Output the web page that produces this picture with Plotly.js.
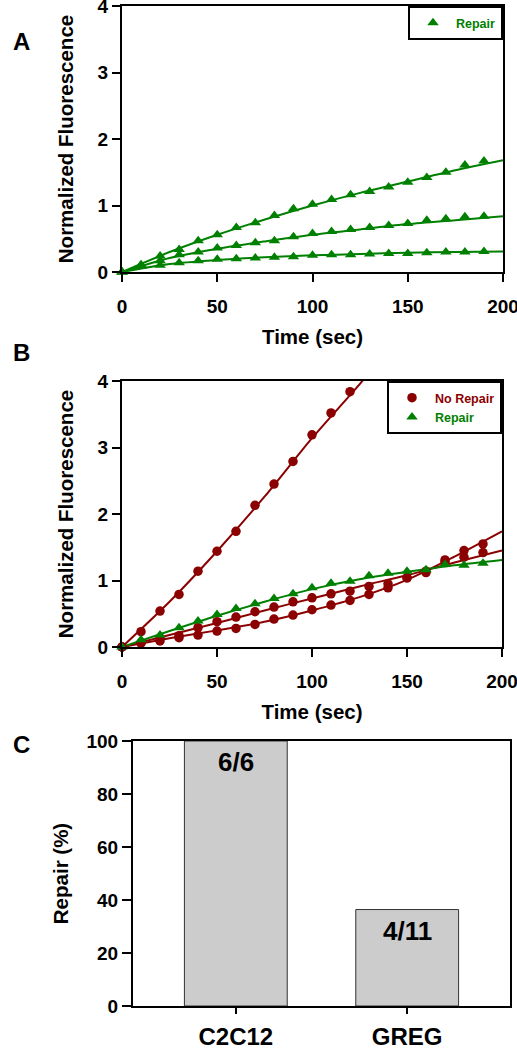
<!DOCTYPE html>
<html>
<head>
<meta charset="utf-8">
<script src="https://cdn.plot.ly/plotly-3.0.1.min.js"></script>
<style>html,body{margin:0;padding:0;background:#fff;}#chart{width:517px;height:1050px;}</style>
</head>
<body>
<div id="chart"></div>
<script>
// ---------- Data ----------
const time = [0,10,20,30,40,50,60,70,80,90,100,110,120,130,140,150,160,170,180,190];
const fitTime = [0,25,50,75,100,125,150,175,200];

// Panel A (Repair, three cells)
const repairA1 = [0,0.11,0.24,0.34,0.47,0.56,0.67,0.74,0.85,0.95,1.02,1.09,1.16,1.21,1.28,1.35,1.42,1.50,1.61,1.67];
const repairA2 = [0,0.10,0.17,0.26,0.30,0.36,0.40,0.44,0.47,0.53,0.58,0.61,0.64,0.67,0.70,0.73,0.78,0.80,0.83,0.84];
const repairA3 = [0,0.09,0.10,0.14,0.17,0.19,0.20,0.21,0.22,0.23,0.25,0.26,0.26,0.27,0.28,0.28,0.29,0.30,0.30,0.31];
const fitA1 = [0,0.30,0.56,0.79,1.00,1.19,1.36,1.53,1.68];
const fitA2 = [0,0.21,0.35,0.46,0.56,0.64,0.72,0.78,0.84];
const fitA3 = [0,0.12,0.18,0.22,0.25,0.27,0.29,0.30,0.31];

// Panel B
const timeSteep = [0,10,20,30,40,50,60,70,80,90,100,110,120];
const noRepairB1 = [0,0.23,0.54,0.79,1.14,1.44,1.74,2.13,2.45,2.79,3.19,3.52,3.84];
const noRepairB2 = [0,0.06,0.13,0.17,0.29,0.38,0.45,0.53,0.60,0.68,0.74,0.80,0.84,0.91,0.95,1.04,1.12,1.28,1.35,1.42];
const noRepairB3 = [0,0.06,0.09,0.14,0.18,0.24,0.28,0.34,0.42,0.48,0.56,0.63,0.70,0.79,0.89,1.04,1.14,1.31,1.45,1.55];
const repairB = [0,0.11,0.18,0.29,0.39,0.49,0.58,0.65,0.73,0.80,0.89,0.96,0.99,1.07,1.11,1.14,1.16,1.24,1.23,1.26];
const fitSteepTime = [0,25,50,75,100,125,150];
const fitB1 = [0,0.68,1.44,2.26,3.14,3.95,4.80];
const fitB2 = [0,0.18,0.36,0.55,0.73,0.91,1.08,1.27,1.45];
const fitB3 = [0,0.13,0.25,0.38,0.55,0.75,1.01,1.36,1.74];
const fitRepairB = [0,0.24,0.47,0.68,0.87,1.02,1.13,1.23,1.31];

// Panel C
const cellLines = ['C2C12','GREG'];
const repairPct = [100, 36.4];
const repairFrac = ['6/6','4/11'];

// ---------- Styles ----------
const GREEN = '#008000';
const RED = '#8B0000';
const FONT = 'Arial, "Liberation Sans", sans-serif';

function fitLine(x, y, color, xa, ya) {
  return {x: x, y: y, type: 'scatter', mode: 'lines', xaxis: xa, yaxis: ya,
    line: {color: color, width: 2, shape: 'spline', smoothing: 0.8},
    showlegend: false, hoverinfo: 'skip'};
}
function pts(x, y, color, symbol, size, xa, ya, name, legend) {
  return {x: x, y: y, type: 'scatter', mode: 'markers', xaxis: xa, yaxis: ya,
    marker: {color: color, symbol: symbol, size: size, line: {width: 0}},
    cliponaxis: false, name: name || '', showlegend: !!name, legend: legend || 'legend'};
}

const traces = [
  fitLine(fitTime, fitA1, GREEN, 'x', 'y'),
  fitLine(fitTime, fitA2, GREEN, 'x', 'y'),
  fitLine(fitTime, fitA3, GREEN, 'x', 'y'),
  pts(time, repairA1, GREEN, 'triangle-up', 10, 'x', 'y', '<span style="color:' + GREEN + '">Repair</span>', 'legend'),
  pts(time, repairA2, GREEN, 'triangle-up', 10, 'x', 'y'),
  pts(time, repairA3, GREEN, 'triangle-up', 10, 'x', 'y'),

  fitLine(fitSteepTime, fitB1, RED, 'x2', 'y2'),
  fitLine(fitTime, fitB2, RED, 'x2', 'y2'),
  fitLine(fitTime, fitB3, RED, 'x2', 'y2'),
  fitLine(fitTime, fitRepairB, GREEN, 'x2', 'y2'),
  pts(timeSteep, noRepairB1, RED, 'circle', 9.5, 'x2', 'y2', '<span style="color:' + RED + '">No Repair</span>', 'legend2'),
  pts(time, noRepairB2, RED, 'circle', 9.5, 'x2', 'y2'),
  pts(time, noRepairB3, RED, 'circle', 9.5, 'x2', 'y2'),
  pts(time, repairB, GREEN, 'triangle-up', 10, 'x2', 'y2', '<span style="color:' + GREEN + '">Repair</span>', 'legend2'),

  {x: cellLines, y: repairPct, type: 'bar', xaxis: 'x3', yaxis: 'y3', width: 0.6,
   marker: {color: '#CCCCCC', line: {color: '#333333', width: 1}}, showlegend: false, hoverinfo: 'skip'}
];

const W = 517, H = 1050;
const px = v => v / W;
const py = v => 1 - v / H;

const tickFont = {family: FONT, size: 19, color: '#000', weight: 'bold'};
const titleFont = {family: FONT, size: 20.5, color: '#000', weight: 'bold'};

function axisBase(extra) {
  return Object.assign({
    showline: true, linecolor: '#000', linewidth: 2, mirror: true,
    ticks: 'outside', ticklen: 8, tickwidth: 2, tickcolor: '#000',
    showgrid: false, zeroline: false, tickfont: tickFont, automargin: false,
    ticklabeloverflow: 'allow'
  }, extra);
}

const layout = {
  width: W, height: H,
  margin: {l: 0, r: 0, t: 0, b: 0},
  paper_bgcolor: '#fff', plot_bgcolor: '#fff',
  font: {family: FONT},
  xaxis: axisBase({domain: [px(122), px(503)], range: [0, 200], dtick: 50, anchor: 'y',
    ticklabelstandoff: 8,
    title: {text: 'Time (sec)', font: titleFont, standoff: 14}}),
  yaxis: axisBase({domain: [py(272), py(6)], range: [0, 4], dtick: 1, anchor: 'x',
    title: {text: 'Normalized Fluorescence', font: titleFont, standoff: 18}}),
  xaxis2: axisBase({domain: [px(122), px(502)], range: [0, 200], dtick: 50, anchor: 'y2',
    ticklabelstandoff: 8,
    title: {text: 'Time (sec)', font: titleFont, standoff: 14}}),
  yaxis2: axisBase({domain: [py(647), py(381)], range: [0, 4], dtick: 1, anchor: 'x2',
    title: {text: 'Normalized Fluorescence', font: titleFont, standoff: 18}}),
  xaxis3: axisBase({domain: [px(133), px(510)], type: 'category', range: [-0.6, 1.6], anchor: 'y3',
    ticklen: 6, ticklabelstandoff: 2, tickfont: {family: FONT, size: 24, color: '#000', weight: 'bold'}}),
  yaxis3: axisBase({domain: [py(1006), py(741)], range: [0, 100], dtick: 20, anchor: 'x3', ticklen: 9,
    title: {text: 'Repair (%)', font: {family: FONT, size: 20.5, color: '#000', weight: 'bold'}, standoff: 12}}),
  legend: {x: px(503), xanchor: 'right', y: py(6), yanchor: 'top', bgcolor: '#fff',
    bordercolor: '#000', borderwidth: 2, itemwidth: 36,
    font: {family: FONT, size: 12.5, weight: 'bold', color: GREEN}},
  legend2: {x: px(502), xanchor: 'right', y: py(381), yanchor: 'top', bgcolor: '#fff',
    bordercolor: '#000', borderwidth: 2, tracegroupgap: 0, itemwidth: 36,
    font: {family: FONT, size: 12.5, weight: 'bold', color: RED}},
  annotations: [
    {text: 'A', x: px(11), y: py(26), xref: 'paper', yref: 'paper', showarrow: false,
     font: {family: FONT, size: 24, weight: 'bold', color: '#000'}},
    {text: 'B', x: px(11), y: py(352), xref: 'paper', yref: 'paper', showarrow: false,
     font: {family: FONT, size: 24, weight: 'bold', color: '#000'}},
    {text: 'C', x: px(11), y: py(760), xref: 'paper', yref: 'paper', showarrow: false,
     font: {family: FONT, size: 24, weight: 'bold', color: '#000'}}
  ].concat(cellLines.map((c, i) => ({
     text: repairFrac[i], x: c, y: repairPct[i], xref: 'x3', yref: 'y3', showarrow: false,
     yanchor: 'top', yshift: -4, font: {family: FONT, size: 26, weight: 'bold', color: '#000'}
  })))
};

Plotly.newPlot('chart', traces, layout, {staticPlot: true, displayModeBar: false});
</script>
</body>
</html>
